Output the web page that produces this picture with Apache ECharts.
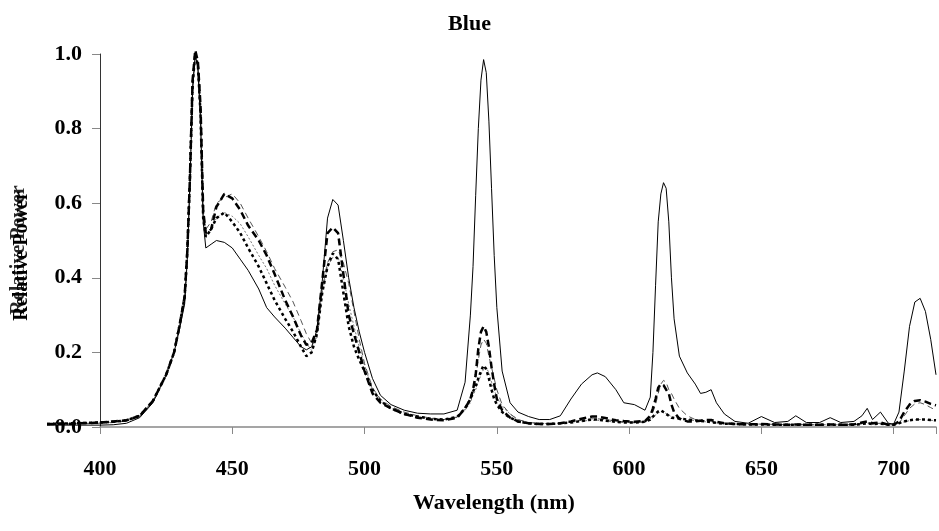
<!DOCTYPE html>
<html><head><meta charset="utf-8">
<script src="https://cdn.jsdelivr.net/npm/echarts@6/dist/echarts.min.js"></script>
<style>html,body{margin:0;padding:0;background:#fff}#c{width:939px;height:531px}</style>
</head><body><div id="c"></div>
<script>
const wavelengths = [380,390,400,405,410,415,420,425,428,430,
432,433,434,435,436,437,438,439,440,442,
444,447,450,453,456,460,463,466,470,473,
476,478,480,482,484,486,488,490,492,494,
496,498,500,503,506,510,515,520,525,530,
535,538,540,541,542,543,544,545,546,547,
548,549,550,552,555,558,562,566,570,574,
578,582,586,588,591,595,598,602,606,608,
609,610,611,612,613,614,615,616,617,619,
622,625,627,629,631,633,636,640,645,650,
655,660,663,667,672,676,680,685,688,690,
692,695,698,700,702,704,706,708,710,712,714,716];

const solidSeries = [0.005,0.005,0.005,0.006,0.01,0.025,0.065,0.14,0.2,0.26,
0.33,0.45,0.65,0.9,1.0,0.96,0.82,0.55,0.48,0.49,
0.5,0.495,0.48,0.45,0.42,0.37,0.32,0.295,0.265,0.24,
0.215,0.207,0.215,0.26,0.39,0.56,0.61,0.595,0.5,0.4,
0.32,0.255,0.2,0.13,0.085,0.06,0.045,0.037,0.035,0.035,
0.045,0.12,0.3,0.43,0.62,0.8,0.93,0.985,0.95,0.82,
0.64,0.46,0.32,0.15,0.065,0.04,0.028,0.02,0.02,0.03,
0.075,0.115,0.14,0.145,0.135,0.1,0.065,0.06,0.045,0.08,
0.2,0.38,0.55,0.625,0.655,0.64,0.55,0.4,0.29,0.19,
0.145,0.115,0.09,0.093,0.1,0.065,0.035,0.015,0.01,0.028,
0.012,0.015,0.03,0.012,0.012,0.025,0.012,0.015,0.03,0.05,
0.02,0.04,0.01,0.008,0.04,0.15,0.27,0.335,0.345,0.31,0.235,0.14];

const dashedSeries = [0.008,0.009,0.012,0.015,0.018,0.03,0.07,0.14,0.2,0.27,
0.35,0.47,0.67,0.93,1.01,0.98,0.86,0.58,0.52,0.53,
0.59,0.625,0.613,0.582,0.54,0.5,0.46,0.41,0.34,0.295,
0.245,0.22,0.225,0.26,0.39,0.52,0.535,0.52,0.41,0.3,
0.25,0.2,0.15,0.09,0.065,0.05,0.035,0.025,0.02,0.018,
0.025,0.05,0.075,0.1,0.14,0.21,0.255,0.27,0.255,0.215,
0.16,0.115,0.075,0.045,0.025,0.015,0.01,0.008,0.008,0.01,
0.015,0.022,0.028,0.028,0.024,0.018,0.016,0.014,0.016,0.03,
0.05,0.075,0.105,0.115,0.112,0.1,0.09,0.06,0.04,0.022,
0.015,0.015,0.017,0.019,0.019,0.014,0.01,0.008,0.007,0.008,
0.007,0.006,0.007,0.006,0.006,0.007,0.006,0.007,0.012,0.015,
0.01,0.012,0.006,0.006,0.015,0.04,0.06,0.07,0.072,0.068,0.062,0.058];

const dottedSeries = [0.008,0.01,0.012,0.014,0.018,0.03,0.07,0.14,0.2,0.27,
0.35,0.47,0.67,0.92,1.0,0.97,0.84,0.56,0.51,0.53,
0.56,0.575,0.55,0.52,0.48,0.43,0.385,0.34,0.29,0.255,
0.215,0.19,0.2,0.25,0.36,0.43,0.465,0.45,0.36,0.27,
0.215,0.18,0.15,0.1,0.07,0.05,0.035,0.028,0.022,0.02,
0.027,0.05,0.075,0.095,0.11,0.13,0.15,0.165,0.155,0.13,
0.1,0.075,0.06,0.04,0.025,0.015,0.01,0.008,0.008,0.01,
0.012,0.016,0.02,0.02,0.017,0.014,0.012,0.012,0.014,0.02,
0.028,0.035,0.042,0.045,0.04,0.035,0.03,0.025,0.024,0.023,
0.02,0.018,0.016,0.015,0.013,0.011,0.009,0.008,0.007,0.007,
0.006,0.006,0.006,0.006,0.006,0.006,0.006,0.006,0.008,0.01,
0.008,0.009,0.006,0.006,0.01,0.015,0.018,0.02,0.02,0.02,0.019,0.018];

const grayDashSeries = [0.006,0.008,0.01,0.012,0.016,0.028,0.068,0.14,0.2,0.27,
0.34,0.46,0.66,0.92,1.0,0.97,0.85,0.57,0.53,0.55,
0.6,0.615,0.625,0.6,0.56,0.51,0.47,0.425,0.375,0.335,
0.285,0.25,0.225,0.24,0.37,0.44,0.47,0.475,0.44,0.385,
0.31,0.235,0.17,0.105,0.075,0.055,0.04,0.03,0.024,0.02,
0.026,0.05,0.07,0.095,0.13,0.18,0.22,0.235,0.225,0.19,
0.16,0.13,0.1,0.06,0.035,0.02,0.012,0.01,0.009,0.01,
0.014,0.018,0.022,0.022,0.02,0.016,0.014,0.013,0.014,0.022,
0.04,0.06,0.09,0.115,0.125,0.12,0.1,0.09,0.075,0.05,
0.03,0.02,0.018,0.017,0.016,0.013,0.01,0.008,0.007,0.008,
0.007,0.006,0.007,0.006,0.006,0.007,0.006,0.007,0.01,0.012,
0.009,0.01,0.006,0.006,0.01,0.03,0.05,0.062,0.065,0.06,0.052,0.045];

const grayDotSeries = [0.007,0.009,0.011,0.013,0.017,0.03,0.07,0.14,0.2,0.27,
0.34,0.46,0.66,0.92,1.0,0.97,0.84,0.56,0.51,0.53,
0.56,0.575,0.565,0.545,0.51,0.46,0.425,0.38,0.33,0.295,
0.25,0.225,0.205,0.25,0.36,0.43,0.455,0.455,0.4,0.33,
0.27,0.215,0.165,0.1,0.07,0.05,0.037,0.028,0.022,0.02,
0.027,0.045,0.065,0.085,0.1,0.12,0.14,0.155,0.16,0.145,
0.12,0.1,0.08,0.055,0.035,0.02,0.012,0.01,0.009,0.01,
0.013,0.016,0.018,0.018,0.016,0.013,0.012,0.011,0.013,0.018,
0.025,0.032,0.038,0.04,0.04,0.036,0.032,0.028,0.026,0.024,
0.02,0.017,0.015,0.014,0.013,0.011,0.009,0.008,0.007,0.007,
0.006,0.006,0.006,0.006,0.006,0.006,0.006,0.006,0.008,0.01,
0.008,0.009,0.006,0.006,0.01,0.014,0.017,0.019,0.02,0.019,0.018,0.017];

const xTickLabels = [400,450,500,550,600,650,700];
const yTickLabels = ['0.0','0.2','0.4','0.6','0.8','1.0'];
const chartTitle = 'Blue';
const xName = 'Wavelength (nm)';
const yName = 'Relative Power';

const FONT = '"Liberation Serif", "Times New Roman", serif';
const AXIS_START = 400;
// main part (>= 400 nm) and the short lead-in drawn left of the y axis (<= 400 nm)
const mainPairs = vals => wavelengths.map((w, i) => [w, vals[i]]).filter(p => p[0] >= AXIS_START);
const leadPairs = vals => wavelengths.map((w, i) => [w, vals[i]]).filter(p => p[0] <= AXIS_START);

function lineSeries(vals, color, width, type, z, lead) {
  return {
    type: 'line', data: lead ? leadPairs(vals) : mainPairs(vals),
    xAxisIndex: lead ? 1 : 0, yAxisIndex: lead ? 1 : 0,
    showSymbol: false, clip: false,
    lineStyle: { color: color, width: width, type: type, cap: 'butt' },
    z: z, silent: true
  };
}
const styles = [
  [grayDotSeries, '#777', 1, [2, 2], 2],
  [grayDashSeries, '#555', 1, [6, 4], 3],
  [dottedSeries, '#000', 2.5, [3, 3], 4],
  [dashedSeries, '#000', 2.5, [7, 4], 5],
  [solidSeries, '#000', 1, 'solid', 6]
];
const series = [];
styles.forEach(s => { series.push(lineSeries(s[0], s[1], s[2], s[3], s[4], true)); });
styles.forEach(s => { series.push(lineSeries(s[0], s[1], s[2], s[3], s[4], false)); });

const chart = echarts.init(document.getElementById('c'), null, { renderer: 'canvas' });
chart.setOption({
  animation: false,
  backgroundColor: '#fff',
  title: {
    text: chartTitle, left: 'center', top: 8,
    textStyle: { fontFamily: FONT, fontWeight: 'bold', fontSize: 22, color: '#000' }
  },
  grid: [
    { left: 100, right: 0, top: 54, bottom: 104, containLabel: false },
    { left: 47, width: 53, top: 54, bottom: 104, containLabel: false }
  ],
  xAxis: [{
    type: 'value', min: 400, max: 716, interval: 50,
    axisLine: { show: true, lineStyle: { color: '#888', width: 1.5 } },
    axisTick: { show: true, inside: false, length: 7, lineStyle: { color: '#888', width: 1 } },
    axisLabel: {
      margin: 31, fontFamily: FONT, fontWeight: 'bold', fontSize: 22, color: '#000',
      formatter: v => xTickLabels.indexOf(v) >= 0 ? String(v) : ''
    },
    splitLine: { show: false }
  }, {
    type: 'value', gridIndex: 1, min: 380, max: 400, show: false
  }],
  yAxis: [{
    type: 'value', min: 0, max: 1, interval: 0.2,
    axisLine: { show: true, lineStyle: { color: '#333', width: 1 } },
    axisTick: { show: true, inside: false, length: 8, lineStyle: { color: '#888', width: 1 } },
    axisLabel: {
      margin: 18, fontFamily: FONT, fontWeight: 'bold', fontSize: 22, color: '#000',
      formatter: v => yTickLabels[Math.round(v * 5)]
    },
    splitLine: { show: false }
  }, {
    type: 'value', gridIndex: 1, min: 0, max: 1, show: false
  }],
  graphic: [
    { type: 'text', left: 413, top: 492,
      style: { text: xName, font: 'bold 22px ' + FONT, fill: '#000' } },
    { type: 'text', x: 22, y: 256, rotation: Math.PI / 2,
      style: { text: yName, font: 'bold 20px ' + FONT, fill: '#000', align: 'center', verticalAlign: 'middle' } },
    { type: 'text', x: 19, y: 250, rotation: Math.PI / 2,
      style: { text: yName, font: 'bold 20px ' + FONT, fill: '#000', align: 'center', verticalAlign: 'middle', opacity: 0.85 } }
  ],
  series: series
});
</script></body></html>
